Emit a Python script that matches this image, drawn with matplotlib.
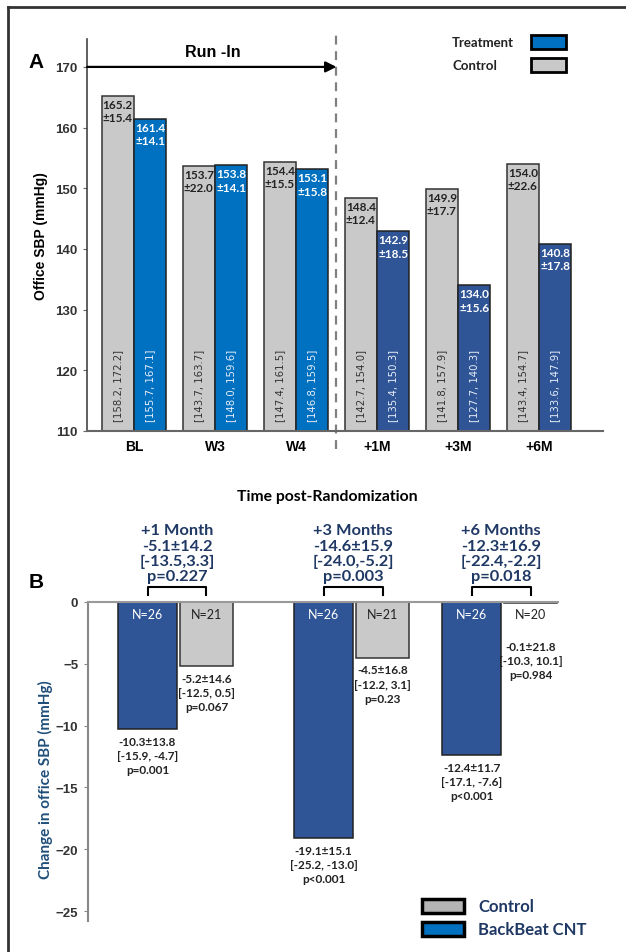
import matplotlib
matplotlib.use("Agg")
import matplotlib.pyplot as plt
from matplotlib.patches import Rectangle
from matplotlib.lines import Line2D

# ---- panel A data
periods = ['BL', 'W3', 'W4', '+1M', '+3M', '+6M']
control_mean = [165.2, 153.7, 154.4, 148.4, 149.9, 154.0]
control_sd = [15.4, 22.0, 15.5, 12.4, 17.7, 22.6]
control_ci = [(158.2, 172.2), (143.7, 163.7), (147.4, 161.5),
              (142.7, 154.0), (141.8, 157.9), (143.4, 154.7)]
treat_mean = [161.4, 153.8, 153.1, 142.9, 134.0, 140.8]
treat_sd = [14.1, 14.1, 15.8, 18.5, 15.6, 17.8]
treat_ci = [(155.7, 167.1), (148.0, 159.6), (146.8, 159.5),
            (135.4, 150.3), (127.7, 140.3), (133.6, 147.9)]

# ---- panel B data
months = ['+1 Month', '+3 Months', '+6 Months']
diff_mean = [-5.1, -14.6, -12.3]
diff_sd = [14.2, 15.9, 16.9]
diff_ci = [(-13.5, 3.3), (-24.0, -5.2), (-22.4, -2.2)]
diff_p = ['0.227', '0.003', '0.018']
cnt_change = [-10.3, -19.1, -12.4]
cnt_sd = [13.8, 15.1, 11.7]
cnt_ci = [(-15.9, -4.7), (-25.2, -13.0), (-17.1, -7.6)]
cnt_p = ['p=0.001', 'p<0.001', 'p<0.001']
cnt_n = [26, 26, 26]
ctl_change = [-5.2, -4.5, -0.1]
ctl_sd = [14.6, 16.8, 21.8]
ctl_ci = [(-12.5, 0.5), (-12.2, 3.1), (-10.3, 10.1)]
ctl_p = ['p=0.067', 'p=0.23', 'p=0.984']
ctl_n = [21, 21, 20]

GRAY = '#c9c9c9'
BLUE = '#0070c0'
DBLUE = '#2f5597'
NAVY = '#1f3864'
CAL = ['Lato', 'DejaVu Sans']
ARIAL = ['Liberation Sans', 'DejaVu Sans']

W, H = 626, 953
fig = plt.figure(figsize=(W / 100, H / 100), dpi=100)


def fx(px):
    return px / W


def fy(py):
    return 1 - py / H


# outer frame (top and left edges visible)
fig.add_artist(Line2D([fx(8), fx(8)], [fy(8), 0], color='#333333', lw=2))
fig.add_artist(Line2D([fx(8), 1], [fy(8), fy(8)], color='#333333', lw=2))

# ================= panel A =================
axA = fig.add_axes([fx(87), fy(432), fx(603 - 87), (432 - 40) / H])
xa = list(range(len(periods)))
bw = 0.4
treat_colors = [BLUE if i < 3 else DBLUE for i in xa]
axA.bar([x - bw / 2 for x in xa], control_mean, bw, color=GRAY,
        edgecolor='#333333', lw=1.1, zorder=2)
axA.bar([x + bw / 2 for x in xa], treat_mean, bw, color=treat_colors,
        edgecolor='#222222', lw=1.1, zorder=2)
axA.set_xlim(-0.58, 5.79)
axA.set_ylim(110, 174.6)
axA.set_yticks(range(110, 171, 10))
axA.set_xticks(xa)
axA.set_xticklabels(periods)
for s in ['top', 'right']:
    axA.spines[s].set_visible(False)
axA.spines['left'].set_color('#444444')
axA.spines['bottom'].set_color('#666666')
axA.spines['left'].set_linewidth(1.2)
axA.spines['bottom'].set_linewidth(1.5)
axA.tick_params(axis='y', direction='out', length=3, color='#666666',
                labelsize=9.5, labelcolor='#333333', pad=4)
axA.tick_params(axis='x', length=0, labelsize=10, pad=6)
for lab in axA.get_xticklabels() + axA.get_yticklabels():
    lab.set_family(ARIAL)
    lab.set_fontweight('bold')

for i in xa:
    axA.text(i - bw / 2, control_mean[i] - 0.5,
             f'{control_mean[i]:.1f}\n±{control_sd[i]:.1f}',
             ha='center', va='top', fontsize=8.5, fontweight='bold',
             family=CAL, color='#222222', linespacing=1.25, zorder=3)
    axA.text(i + bw / 2, treat_mean[i] - 0.5,
             f'{treat_mean[i]:.1f}\n±{treat_sd[i]:.1f}',
             ha='center', va='top', fontsize=8.5, fontweight='bold',
             family=CAL, color='white', linespacing=1.25, zorder=3)
    lo, hi = control_ci[i]
    axA.text(i - bw / 2, 111.6, f'[{lo:.1f}, {hi:.1f}]', rotation=90,
             ha='center', va='bottom', fontsize=7.3, color='#333333', zorder=3)
    lo, hi = treat_ci[i]
    axA.text(i + bw / 2, 111.6, f'[{lo:.1f}, {hi:.1f}]', rotation=90,
             ha='center', va='bottom', fontsize=7.3, color='#e8eef8', zorder=3)

# run-in arrow and randomization divider
axA.annotate('', xy=(2.5, 170), xytext=(-0.58, 170),
             arrowprops=dict(arrowstyle='-|>', color='black', lw=1.6,
                             mutation_scale=16, shrinkA=0, shrinkB=0),
             annotation_clip=False)
axA.text(0.975, 172.6, 'Run -In', ha='center', va='center', fontsize=11.5,
         fontweight='bold', family=ARIAL)
axA.plot([2.5, 2.5], [107.0, 176.3], color='#808080', lw=1.6,
         ls=(0, (4, 3)), clip_on=False, zorder=1)

fig.text(fx(41), fy(236), 'Office SBP (mmHg)', rotation=90, ha='center',
         va='center', fontsize=10, fontweight='bold', family=ARIAL)
fig.text(fx(36), fy(62), 'A', ha='center', va='center', fontsize=15,
         fontweight='bold', family=ARIAL)

# legend A
for label, col, yc in [('Treatment', BLUE, 43), ('Control', GRAY, 66)]:
    fig.text(fx(452), fy(yc), label, ha='left', va='center', fontsize=9.5,
             fontweight='bold', family=CAL, color='#222222')
    fig.add_artist(Rectangle((fx(531), fy(yc + 7)), fx(35), 14 / H,
                             facecolor=col, edgecolor='black', lw=2,
                             transform=fig.transFigure))

fig.text(fx(327), fy(497), 'Time post-Randomization', ha='center',
         va='center', fontsize=11.3, fontweight='bold', family=CAL)

# ================= panel B =================
axB = fig.add_axes([fx(88), fy(922), fx(558 - 88), (922 - 603) / H])
xb = [0, 1.19, 2.19]
bwb = 0.398
gwb = 0.358
axB.bar(xb, cnt_change, -bwb, align='edge', color=DBLUE,
        edgecolor='#222222', lw=1.1, zorder=2)
axB.bar([x + 0.02 for x in xb], ctl_change, gwb, align='edge', color=GRAY,
        edgecolor='#333333', lw=1.1, zorder=2)
axB.set_xlim(-0.601, 2.574)
axB.set_ylim(-25.8, 0)
axB.set_yticks(range(-25, 1, 5))
axB.set_xticks([])
for s in ['right', 'bottom']:
    axB.spines[s].set_visible(False)
axB.spines['left'].set_color('#888888')
axB.spines['top'].set_color('#999999')
axB.spines['left'].set_linewidth(1.5)
axB.spines['top'].set_linewidth(1.5)
axB.tick_params(axis='y', direction='out', length=3, color='#888888',
                labelsize=9.5, labelcolor='#333333', pad=4)
for lab in axB.get_yticklabels():
    lab.set_family(ARIAL)
    lab.set_fontweight('bold')

for i, x in enumerate(xb):
    bc = x - bwb / 2
    gc = x + 0.02 + gwb / 2
    axB.text(bc, -1.0, f'N={cnt_n[i]}', ha='center', va='center',
             fontsize=9, family=CAL, color='white', zorder=3)
    axB.text(gc, -1.0, f'N={ctl_n[i]}', ha='center', va='center',
             fontsize=9, family=CAL, color='#222222', zorder=3)
    lo, hi = cnt_ci[i]
    axB.text(bc, cnt_change[i] - 0.55,
             f'{cnt_change[i]:.1f}±{cnt_sd[i]:.1f}\n[{lo:.1f}, {hi:.1f}]\n{cnt_p[i]}',
             ha='center', va='top', fontsize=8.5, fontweight='bold', family=CAL,
             color='#222222', linespacing=1.35)
    lo, hi = ctl_ci[i]
    axB.text(gc, min(ctl_change[i], -2.6) - 0.55,
             f'{ctl_change[i]:.1f}±{ctl_sd[i]:.1f}\n[{lo:.1f}, {hi:.1f}]\n{ctl_p[i]}',
             ha='center', va='top', fontsize=8.5, fontweight='bold', family=CAL,
             color='#222222', linespacing=1.35)
    # bracket
    axB.plot([bc, bc, gc, gc], [0.57, 1.21, 1.21, 0.57], color='black',
             lw=1.5, clip_on=False)
    lo, hi = diff_ci[i]
    axB.text(x, 1.5,
             f'{months[i]}\n{diff_mean[i]:.1f}±{diff_sd[i]:.1f}\n[{lo:.1f},{hi:.1f}]\np={diff_p[i]}',
             ha='center', va='bottom', fontsize=11.8, fontweight='bold',
             family=CAL, color=NAVY, linespacing=1.12, clip_on=False)

fig.text(fx(45), fy(780), 'Change in office SBP (mmHg)', rotation=90,
         ha='center', va='center', fontsize=11, fontweight='bold',
         family=CAL, color='#1f4e79')
fig.text(fx(36), fy(582), 'B', ha='center', va='center', fontsize=15,
         fontweight='bold', family=ARIAL)

# legend B
for label, col, yc in [('Control', '#b4b4b4', 907), ('BackBeat CNT', BLUE, 930)]:
    fig.add_artist(Rectangle((fx(422), fy(yc + 7)), fx(42), 14 / H,
                             facecolor=col, edgecolor='black', lw=2.5,
                             transform=fig.transFigure))
    fig.text(fx(478), fy(yc), label, ha='left', va='center', fontsize=12,
             fontweight='bold', family=CAL, color=NAVY)

fig.savefig('out.png', dpi=100)
